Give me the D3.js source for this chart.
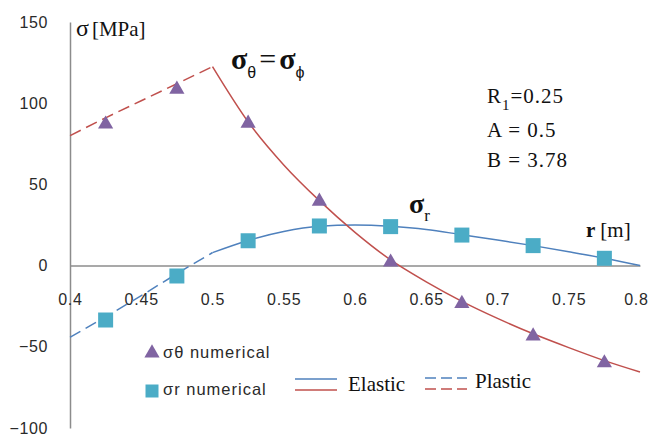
<!DOCTYPE html>
<html>
<head>
<meta charset="utf-8">
<script src="https://cdn.jsdelivr.net/npm/d3@7"></script>
<style>
  html, body { margin: 0; padding: 0; background: #fff; }
  svg { display: block; }
</style>
</head>
<body>
<svg id="chart" width="651" height="436"></svg>
<script>
// Radius positions of the numerical solution (m)
const rNumerical = [0.425, 0.475, 0.525, 0.575, 0.625, 0.675, 0.725, 0.775];
const sigmaThetaNumerical = [88, 109.5, 88.5, 40.5, 3, -22.5, -42.5, -59];
const sigmaRNumerical = [-33.5, -6.4, 15.3, 24.4, 24, 18.8, 12.3, 4.5];

// Analytical solution, plastic zone (dashed)
const rPlastic = [0.4, 0.425, 0.45, 0.475, 0.5];
const sigmaThetaPlastic = [80, 91, 101.5, 112, 122.5];
const sigmaRPlastic = [-44.2, -31.5, -18.5, -5, 8];

// Analytical solution, elastic zone (solid)
const rElastic = [0.5, 0.525, 0.55, 0.575, 0.6, 0.625, 0.65, 0.675, 0.7, 0.725, 0.75, 0.775, 0.8];
const sigmaThetaElastic = [122.5, 88.5, 62, 40, 20.5, 3.5, -10, -22, -32.5, -42, -50.5, -58.5, -65.5];
const sigmaRElastic = [8, 15.5, 21, 24.2, 25, 24.2, 22.3, 19, 15.7, 12.3, 8.5, 4.5, 0];

// Axis ticks
const xTicks = [0.4, 0.45, 0.5, 0.55, 0.6, 0.65, 0.7, 0.75, 0.8];
const yTicks = [150, 100, 50, 0, -50, -100];

const markerLegend = ["σθ numerical", "σr numerical"];
const lineLegend = ["Elastic", "Plastic"];

const red = "#C0504D", blue = "#4F81BD", purple = "#8064A2", teal = "#4BACC6";
const axisGray = "#8c8c8c";
const sansFont = "'Liberation Sans', Arial, sans-serif";
const serifFont = "'Liberation Serif', 'Times New Roman', serif";

const svg = d3.select("#chart");

const x = d3.scaleLinear().domain([0.4, 0.8]).range([70, 640]);
const y = d3.scaleLinear().domain([-100, 150]).range([428, 22]);

// Y axis
const yAxis = svg.append("g")
  .attr("transform", `translate(${x(0.4)},0)`)
  .call(d3.axisLeft(y).tickValues(yTicks).tickSize(0).tickSizeOuter(0).tickPadding(22).tickFormat(d3.format("d")));
yAxis.select(".domain").attr("stroke", axisGray).attr("stroke-width", 1.5);
yAxis.selectAll("text")
  .attr("font-family", sansFont).attr("font-size", 16).attr("fill", "#2a2a2a")
  .attr("letter-spacing", 0.6);

// X axis through zero
const xAxis = svg.append("g")
  .attr("transform", `translate(0,${y(0)})`)
  .call(d3.axisBottom(x).tickValues(xTicks).tickSize(0).tickSizeOuter(0).tickPadding(28).tickFormat(d => String(d)));
xAxis.select(".domain").attr("stroke", axisGray).attr("stroke-width", 1.5);
xAxis.selectAll("text")
  .attr("font-family", sansFont).attr("font-size", 16).attr("fill", "#2a2a2a")
  .attr("letter-spacing", 0.8);
// keep the last tick label inside the frame
xAxis.selectAll(".tick").filter(d => d === 0.8).select("text").attr("dx", -4);

// Analytical curves
const line = d3.line().x(d => x(d[0])).y(d => y(d[1])).curve(d3.curveMonotoneX);
const zip = (a, b) => a.map((v, i) => [v, b[i]]);

const curves = [
  { pts: zip(rPlastic, sigmaRPlastic), color: blue, dash: "12,6" },
  { pts: zip(rPlastic, sigmaThetaPlastic), color: red, dash: "12,6" },
  { pts: zip(rElastic, sigmaRElastic), color: blue, dash: null },
  { pts: zip(rElastic, sigmaThetaElastic), color: red, dash: null }
];
svg.append("g").selectAll("path").data(curves).join("path")
  .attr("d", d => line(d.pts))
  .attr("fill", "none")
  .attr("stroke", d => d.color)
  .attr("stroke-width", 1.5)
  .attr("stroke-dasharray", d => d.dash);

// Numerical markers
const tri = d3.symbol().type(d3.symbolTriangle).size(100);
const sq = d3.symbol().type(d3.symbolSquare).size(225);

svg.append("g").selectAll("path").data(zip(rNumerical, sigmaRNumerical)).join("path")
  .attr("d", sq)
  .attr("transform", d => `translate(${x(d[0])},${y(d[1])})`)
  .attr("fill", teal);

svg.append("g").selectAll("path").data(zip(rNumerical, sigmaThetaNumerical)).join("path")
  .attr("d", tri)
  .attr("transform", d => `translate(${x(d[0])},${y(d[1]) + 1.5})`)
  .attr("fill", purple);

// Legend: markers
const legend = svg.append("g");
legend.append("path").attr("d", tri).attr("transform", "translate(152,353)").attr("fill", purple);
legend.append("path").attr("d", d3.symbol().type(d3.symbolSquare).size(169)).attr("transform", "translate(152,391)").attr("fill", teal);
legend.selectAll("text.mk").data(markerLegend).join("text")
  .attr("class", "mk")
  .attr("x", 163).attr("y", (d, i) => 358 + i * 37)
  .attr("font-family", sansFont).attr("font-size", 16.5).attr("fill", "#2a2a2a")
  .attr("letter-spacing", 1)
  .text(d => d);

// Legend: line styles
[[blue, 379], [red, 390]].forEach(([c, yy]) => {
  legend.append("line").attr("x1", 295).attr("x2", 337).attr("y1", yy).attr("y2", yy)
    .attr("stroke", c).attr("stroke-width", 1.5);
  legend.append("line").attr("x1", 425).attr("x2", 467).attr("y1", yy - 1).attr("y2", yy - 1)
    .attr("stroke", c).attr("stroke-width", 1.5).attr("stroke-dasharray", "11,5");
});
legend.selectAll("text.ln").data(lineLegend).join("text")
  .attr("class", "ln")
  .attr("x", (d, i) => i === 0 ? 348 : 475)
  .attr("y", (d, i) => i === 0 ? 391 : 388)
  .attr("font-family", serifFont).attr("font-size", 21).attr("fill", "#111")
  .text(d => d);

// Axis titles
const yTitle = svg.append("text").attr("x", 76).attr("y", 36)
  .attr("font-family", serifFont).attr("font-size", 21).attr("fill", "#111");
yTitle.append("tspan").attr("font-size", 24).text("σ");
yTitle.append("tspan").attr("dx", 3).text("[MPa]");

const xTitle = svg.append("text").attr("x", 586).attr("y", 237)
  .attr("font-family", serifFont).attr("font-size", 21).attr("fill", "#111");
xTitle.append("tspan").attr("font-weight", "bold").text("r");
xTitle.append("tspan").attr("dx", 5).text("[m]");

// Curve labels
const thetaLabel = svg.append("text").attr("x", 231).attr("y", 69)
  .attr("font-family", serifFont).attr("font-size", 30).attr("font-weight", "bold").attr("fill", "#111");
thetaLabel.append("tspan").text("σ");
thetaLabel.append("tspan").attr("dy", 9).attr("font-size", 16).attr("font-weight", "normal").attr("font-family", sansFont).text("θ");
thetaLabel.append("tspan").attr("dy", -9).attr("dx", 3).attr("font-weight", "normal").text("=");
thetaLabel.append("tspan").attr("dx", 3).text("σ");
thetaLabel.append("tspan").attr("dy", 9).attr("font-size", 16).attr("font-weight", "normal").attr("font-family", sansFont).text("ϕ");

const rLabel = svg.append("text").attr("x", 409).attr("y", 213)
  .attr("font-family", serifFont).attr("font-size", 28).attr("font-weight", "bold").attr("fill", "#111");
rLabel.append("tspan").text("σ");
rLabel.append("tspan").attr("dy", 8).attr("font-size", 17).attr("font-weight", "normal").text("r");

// Parameter block
const params = svg.append("g").attr("font-family", serifFont).attr("font-size", 21).attr("fill", "#111").attr("letter-spacing", 1);
const p1 = params.append("text").attr("x", 487).attr("y", 103);
p1.append("tspan").text("R");
p1.append("tspan").attr("dy", 7).attr("font-size", 15).text("1");
p1.append("tspan").attr("dy", -7).text("=0.25");
params.append("text").attr("x", 487).attr("y", 137).text("A = 0.5");
params.append("text").attr("x", 487).attr("y", 167).text("B = 3.78");
</script>
</body>
</html>
